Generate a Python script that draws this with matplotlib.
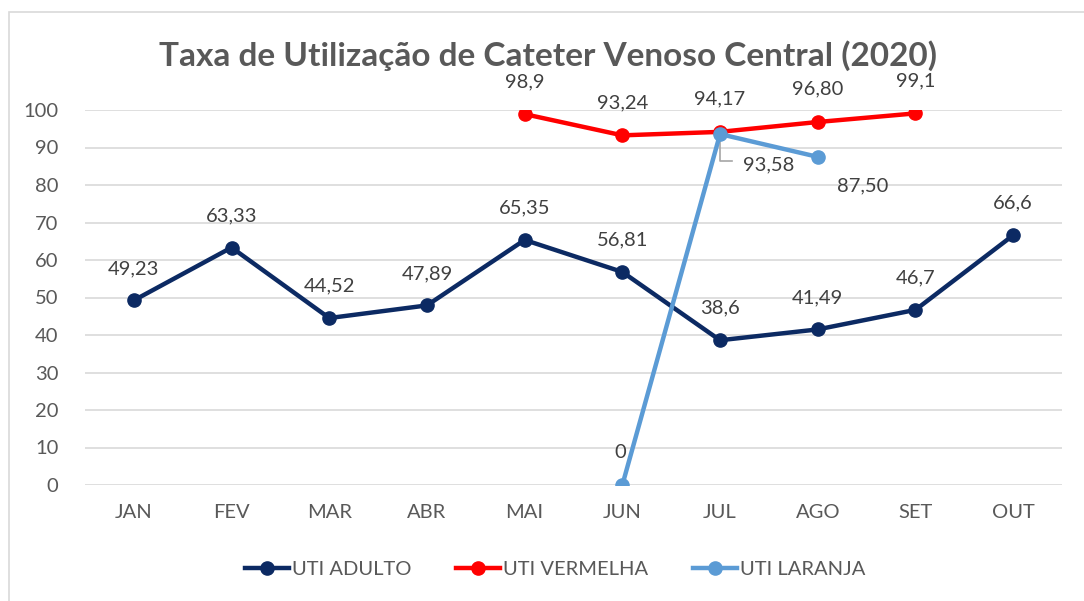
import matplotlib
matplotlib.use("Agg")
import matplotlib.pyplot as plt
from matplotlib.patches import Rectangle
from matplotlib.lines import Line2D

months = ["JAN", "FEV", "MAR", "ABR", "MAI", "JUN", "JUL", "AGO", "SET", "OUT"]
adulto = [49.23, 63.33, 44.52, 47.89, 65.35, 56.81, 38.6, 41.49, 46.7, 66.6]
adulto_lbl = ["49,23", "63,33", "44,52", "47,89", "65,35", "56,81", "38,6", "41,49", "46,7", "66,6"]
verm_months = ["MAI", "JUN", "JUL", "AGO", "SET"]
vermelha = [98.9, 93.24, 94.17, 96.80, 99.1]
verm_lbl = ["98,9", "93,24", "94,17", "96,80", "99,1"]
lar_months = ["JUN", "JUL", "AGO"]
laranja = [0, 93.58, 87.50]
lar_lbl = ["0", "93,58", "87,50"]

yticks = [0, 10, 20, 30, 40, 50, 60, 70, 80, 90, 100]

plt.rcParams['font.family'] = ['Lato', 'DejaVu Sans']

c_adulto = "#0c2a63"
c_verm = "#ff0000"
c_lar = "#5b9bd5"
txt = "#595959"
lbl_c = "#404040"

W, H = 1084, 601
fig = plt.figure(figsize=(W / 100, H / 100), dpi=100)
ax = fig.add_axes([85 / W, 1 - 485 / H, (1062 - 85) / W, (485 - 110) / H])

idx = {m: i for i, m in enumerate(months)}
x_ad = [idx[m] for m in months]
x_v = [idx[m] for m in verm_months]
x_l = [idx[m] for m in lar_months]

lw = 3.2
ms = 9.5
ax.plot(x_ad, adulto, color=c_adulto, lw=lw, marker="o", ms=ms, label="UTI ADULTO", zorder=3,
        solid_joinstyle="round")
ax.plot(x_v, vermelha, color=c_verm, lw=lw, marker="o", ms=ms, label="UTI VERMELHA", zorder=3)
ax.plot(x_l, laranja, color=c_lar, lw=lw, marker="o", ms=ms, label="UTI LARANJA", zorder=4)

fs = 14.5
ax.set_xlim(-0.5, len(months) - 0.5)
ax.set_ylim(0, 100)
ax.set_yticks(yticks)
ax.set_xticks(range(len(months)))
ax.set_xticklabels(months)
ax.tick_params(axis="both", length=0, labelsize=fs, colors=txt)
ax.tick_params(axis="y", pad=19)
ax.tick_params(axis="x", pad=14)
ax.grid(axis="y", color="#d9d9d9", lw=1.2)
ax.set_axisbelow(True)
for s in ax.spines.values():
    s.set_visible(False)

for x, y, t in zip(x_ad, adulto, adulto_lbl):
    ax.annotate(t, (x, y), xytext=(0, 23), textcoords="offset points", ha="center", va="center",
                fontsize=fs, color=lbl_c)
for x, y, t in zip(x_v, vermelha, verm_lbl):
    ax.annotate(t, (x, y), xytext=(0, 23.5), textcoords="offset points", ha="center", va="center",
                fontsize=fs, color=lbl_c, annotation_clip=False)
# laranja labels
ax.annotate(lar_lbl[0], (x_l[0], laranja[0]), xytext=(-1.5, 23.5), textcoords="offset points",
            ha="center", va="center", fontsize=fs, color=lbl_c)
ax.annotate(lar_lbl[1], (x_l[1], laranja[1]), xytext=(35, -22), textcoords="offset points",
            ha="center", va="center", fontsize=fs, color=lbl_c)
# leader line for 93,58
x0, y0 = ax.transData.transform((x_l[1], laranja[1]))
pts = [(x0, y0 - 2), (x0, y0 - 27), (x0 + 12, y0 - 27)]
inv = ax.transData.inverted()
dp = [inv.transform(p) for p in pts]
ax.add_line(Line2D([p[0] for p in dp], [p[1] for p in dp], color="#a6a6a6", lw=1.2, zorder=2))
ax.annotate(lar_lbl[2], (x_l[2], laranja[2]), xytext=(32, -21), textcoords="offset points",
            ha="center", va="center", fontsize=fs, color=lbl_c)

fig.suptitle("Taxa de Utilização de Cateter Venoso Central (2020)", x=548 / W, y=1 - 56 / H,
             va="center", fontsize=24, fontweight="bold", color=txt)

leg = fig.legend(loc="center", bbox_to_anchor=(555 / W, 1 - 569 / H), ncol=3, frameon=False,
                 fontsize=fs, handlelength=2.2, handletextpad=0.15, columnspacing=2.2,
                 labelcolor=txt)

fig.patches.append(Rectangle((9 / W, -0.1), 1.2, 1 - 12 / H + 0.1, transform=fig.transFigure,
                             fill=False, edgecolor="#d9d9d9", lw=1.2))

fig.savefig("out.png", dpi=100, facecolor="white")
